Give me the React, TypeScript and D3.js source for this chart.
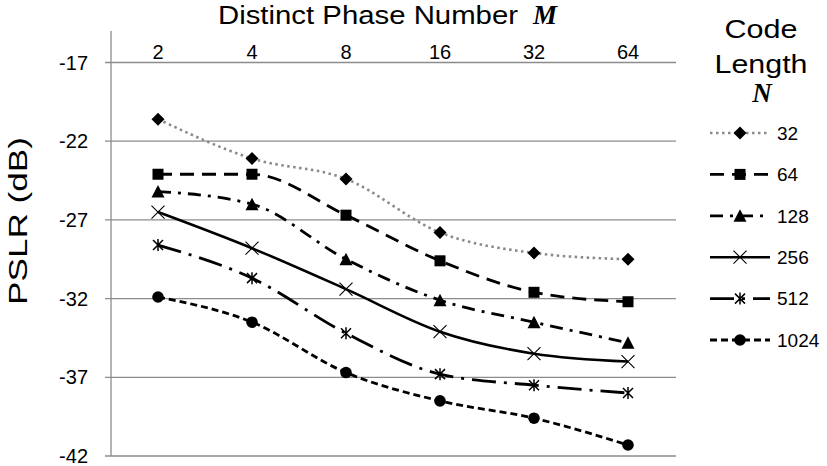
import React from "react";
import * as d3 from "d3";

const categories = ["2", "4", "8", "16", "32", "64"];
const seriesNames = ["32", "64", "128", "256", "512", "1024"];
const s32 = [-20.6, -23.1, -24.4, -27.8, -29.1, -29.5];
const s64 = [-24.1, -24.1, -26.7, -29.6, -31.6, -32.2];
const s128 = [-25.2, -26.0, -29.5, -32.1, -33.5, -34.8];
const s256 = [-26.5, -28.8, -31.4, -34.1, -35.5, -36.0];
const s512 = [-28.6, -30.7, -34.2, -36.8, -37.5, -38.0];
const s1024 = [-31.9, -33.5, -36.7, -38.5, -39.6, -41.3];
const yTicks = [-42, -37, -32, -27, -22, -17];

const seriesValues = [s32, s64, s128, s256, s512, s1024];
const styles = [
  { stroke: "#8a8a8a", dash: "2.5 3.5", marker: "diamond", width: 2.6 },
  { stroke: "#000", dash: "14 8", marker: "square", width: 2.8 },
  { stroke: "#000", dash: "13 7 3 7", marker: "triangle", width: 2.8 },
  { stroke: "#000", dash: "", marker: "x", width: 2.6 },
  { stroke: "#000", dash: "24 8 3 8", marker: "star", width: 2.8 },
  { stroke: "#000", dash: "7 4", marker: "circle", width: 2.8 },
];

const W = 827;
const H = 466;
const left = 111;
const right = 675;
const x = d3.scalePoint<string>().domain(categories).range([left, right]).padding(0.5);
const y = d3.scaleLinear().domain([-42, -15]).range([456, 31]);

function Marker({ type, cx, cy }: { type: string; cx: number; cy: number }) {
  if (type === "diamond") {
    const r = 6.5;
    return <path d={`M${cx},${cy - r}L${cx + r},${cy}L${cx},${cy + r}L${cx - r},${cy}Z`} fill="#000" />;
  }
  if (type === "square") {
    return <rect x={cx - 5.5} y={cy - 5.5} width={11} height={11} fill="#000" />;
  }
  if (type === "triangle") {
    const r = 6.5;
    return <path d={`M${cx},${cy - r}L${cx + r},${cy + r - 0.5}L${cx - r},${cy + r - 0.5}Z`} fill="#000" />;
  }
  if (type === "circle") {
    return <circle cx={cx} cy={cy} r={5.8} fill="#000" />;
  }
  if (type === "x") {
    const r = 6.5;
    return (
      <path d={`M${cx - r},${cy - r}L${cx + r},${cy + r}M${cx - r},${cy + r}L${cx + r},${cy - r}`} stroke="#000" strokeWidth={1.1} fill="none" />
    );
  }
  const r = 5;
  return (
    <path
      d={`M${cx - r},${cy - r}L${cx + r},${cy + r}M${cx - r},${cy + r}L${cx + r},${cy - r}M${cx},${cy - r - 1}L${cx},${cy + r + 1}`}
      stroke="#000"
      strokeWidth={1.5}
      fill="none"
    />
  );
}

export default function App() {
  const line = d3
    .line<number>()
    .x((_, i) => x(categories[i]) as number)
    .y((d) => y(d))
    .curve(d3.curveMonotoneX);

  const font = "'Liberation Sans', Arial, sans-serif";
  const legendY0 = 133;
  const legendStep = 41.4;

  return (
    <svg width={W} height={H} style={{ position: "absolute", left: 0, top: 0, background: "#fff" }} fontFamily={font}>
      <rect width={W} height={H} fill="#fff" />
      {yTicks.map((t) => (
        <line key={t} x1={left - 6} x2={right + 1} y1={y(t)} y2={y(t)} stroke="#8c8c8c" strokeWidth={1.3} />
      ))}
      <line x1={left} x2={left} y1={y(-15)} y2={y(-42)} stroke="#8c8c8c" strokeWidth={1.3} />
      {yTicks.map((t) => (
        <text key={t} x={88} y={y(t)} dy="0.36em" textAnchor="end" fontSize={20} fill="#000">
          {t}
        </text>
      ))}
      {categories.map((c) => (
        <text key={c} x={x(c)} y={59} textAnchor="middle" fontSize={20} fill="#000">
          {c}
        </text>
      ))}
      <text x={218} y={24} fontSize={26} textLength={300} lengthAdjust="spacingAndGlyphs" fill="#000">
        Distinct Phase Number
      </text>
      <text x={533} y={24} fontSize={27} fontStyle="italic" fontWeight="bold" fontFamily="'Liberation Serif', 'Times New Roman', serif" fill="#000">
        M
      </text>
      <text
        transform={`translate(27,${221}) rotate(-90)`}
        textAnchor="middle"
        fontSize={26}
        textLength={168}
        lengthAdjust="spacingAndGlyphs"
        fill="#000"
      >
        PSLR (dB)
      </text>
      {seriesValues.map((vals, si) => (
        <g key={si}>
          <path
            d={line(vals) || ""}
            fill="none"
            stroke={styles[si].stroke}
            strokeWidth={styles[si].width}
            strokeDasharray={styles[si].dash}
          />
          {vals.map((v, i) => (
            <Marker key={i} type={styles[si].marker} cx={x(categories[i]) as number} cy={y(v)} />
          ))}
        </g>
      ))}
      <text x={761} y={38} textAnchor="middle" fontSize={26} textLength={73} lengthAdjust="spacingAndGlyphs" fill="#000">
        Code
      </text>
      <text x={761} y={73} textAnchor="middle" fontSize={26} textLength={93} lengthAdjust="spacingAndGlyphs" fill="#000">
        Length
      </text>
      <text x={762} y={102} textAnchor="middle" fontSize={27} fontStyle="italic" fontWeight="bold" fontFamily="'Liberation Serif', 'Times New Roman', serif" fill="#000">
        N
      </text>
      {seriesNames.map((n, i) => {
        const ly = legendY0 + i * legendStep;
        return (
          <g key={n}>
            <line x1={710} x2={770} y1={ly} y2={ly} stroke={styles[i].stroke} strokeWidth={styles[i].width} strokeDasharray={styles[i].dash} />
            <Marker type={styles[i].marker} cx={740} cy={ly} />
            <text x={777} y={ly} dy="0.36em" fontSize={19} fill="#000">
              {n}
            </text>
          </g>
        );
      })}
    </svg>
  );
}
